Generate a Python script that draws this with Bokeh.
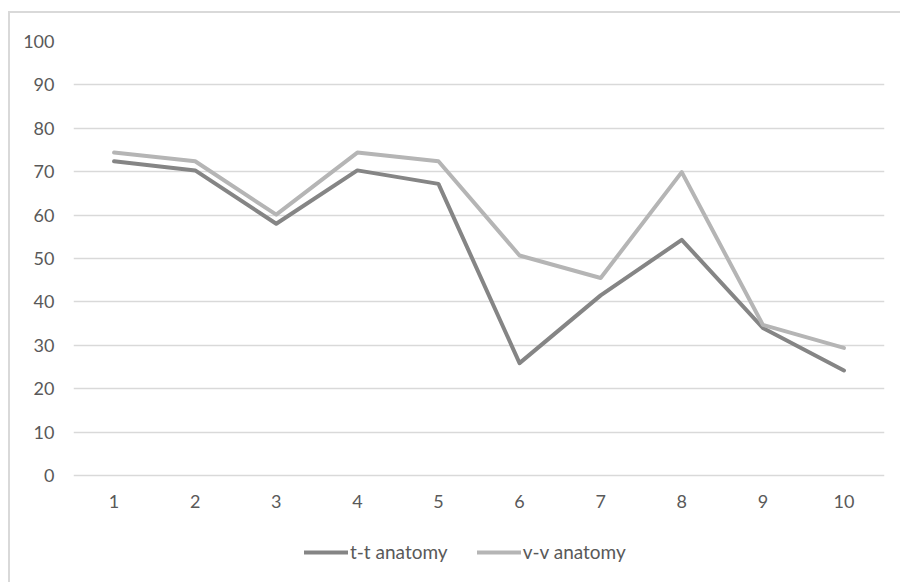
from bokeh.plotting import figure
from bokeh.models import (FactorRange, Range1d, FixedTicker, Legend, LegendItem,
                          ColumnDataSource, InlineStyleSheet)
from bokeh.embed import file_html
from bokeh.resources import INLINE

categories = ["1", "2", "3", "4", "5", "6", "7", "8", "9", "10"]
tt_anatomy = [72.4, 70.3, 58.0, 70.3, 67.2, 25.9, 41.5, 54.3, 34.0, 24.2]
vv_anatomy = [74.4, 72.4, 60.1, 74.4, 72.4, 50.7, 45.5, 69.9, 34.7, 29.4]
y_ticks = [0, 10, 20, 30, 40, 50, 60, 70, 80, 90, 100]

FONT = "Lato"
TXT = "#595959"
GRID = "#d9d9d9"

src = ColumnDataSource(dict(x=categories, tt=tt_anatomy, vv=vv_anatomy))

# the frame reaches down to the legend row; the value axis runs 0..100,
# the room below 0 holds the category labels and the legend
p = figure(x_range=FactorRange(*categories, range_padding=0),
           y_range=Range1d(-23.5, 100),
           width=900, height=582, output_backend="svg", toolbar_location=None,
           min_border_left=73, min_border_right=16, min_border_top=41,
           min_border_bottom=5)
p.outline_line_color = None
p.background_fill_color = "white"
p.border_fill_color = "white"

# chart-area border (left and top edges visible in the reference crop)
p.stylesheets = [InlineStyleSheet(css=(
    ":host::after { content: ''; position: absolute; left: 8px; top: 11px; "
    "right: 0; bottom: 0; border-left: 2px solid #d9d9d9; "
    "border-top: 2px solid #d9d9d9; pointer-events: none; }"))]

r1 = p.line("x", "tt", source=src, line_color="#858585", line_width=4,
            line_join="round", line_cap="round")
r2 = p.line("x", "vv", source=src, line_color="#b5b5b5", line_width=4,
            line_join="round", line_cap="round")

p.yaxis.ticker = FixedTicker(ticks=y_ticks)
for ax in (p.xaxis[0], p.yaxis[0]):
    ax.axis_line_color = None
    ax.major_tick_line_color = None
    ax.minor_tick_line_color = None
    ax.major_tick_out = 0
    ax.major_tick_in = 0
    ax.minor_tick_out = 0
    ax.minor_tick_in = 0
    ax.major_label_text_font = FONT
    ax.major_label_text_font_size = "18px"
    ax.major_label_text_color = TXT
p.yaxis.major_label_standoff = 19
p.xaxis.major_label_standoff = 19
p.xaxis.fixed_location = 0

p.xgrid.grid_line_color = None
p.ygrid.grid_line_color = GRID
p.ygrid.grid_line_width = 1.5

legend = Legend(items=[LegendItem(label="t-t anatomy", renderers=[r1]),
                       LegendItem(label="v-v anatomy", renderers=[r2])],
                orientation="horizontal", location=(231, 14),
                padding=0, margin=0, spacing=29, label_standoff=2,
                glyph_width=44, glyph_height=20,
                label_text_font=FONT, label_text_font_size="19px",
                label_text_color=TXT, background_fill_alpha=0,
                border_line_color=None)
p.add_layout(legend, "center")

open("out.html", "w").write(file_html(p, INLINE))
